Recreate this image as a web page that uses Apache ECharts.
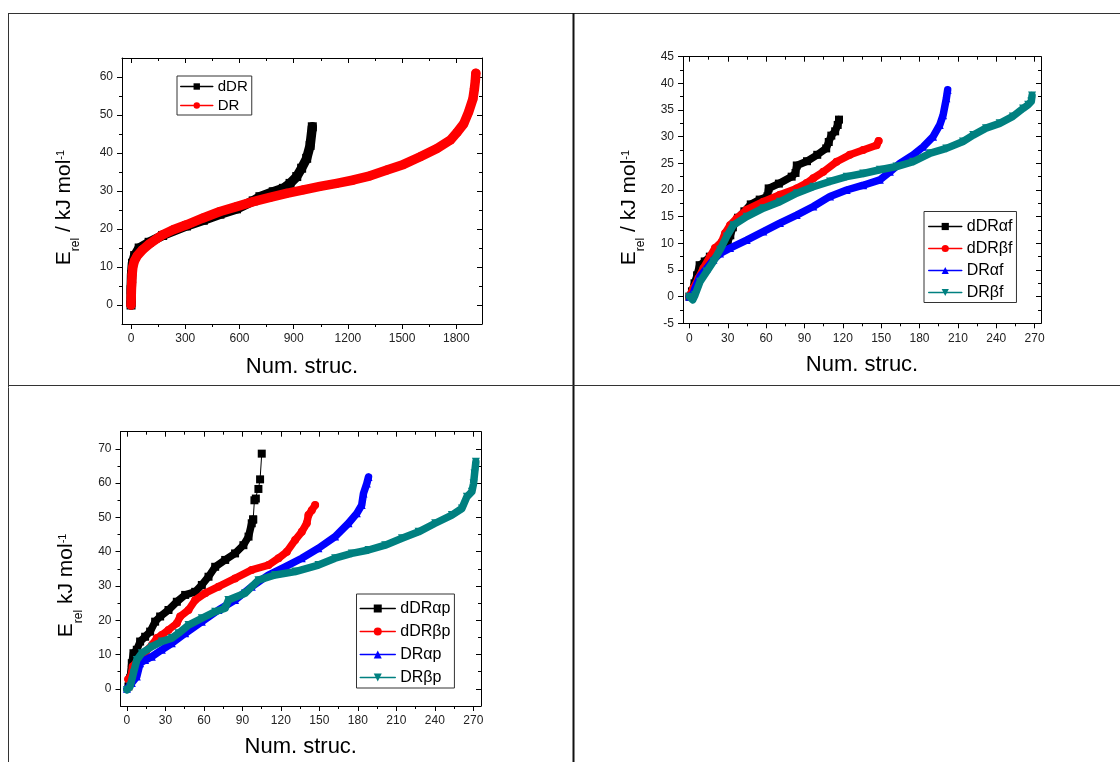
<!DOCTYPE html>
<html>
<head>
<meta charset="utf-8">
<script src="https://cdn.jsdelivr.net/npm/echarts@6/dist/echarts.min.js"></script>
<style>
  html, body { margin: 0; padding: 0; background: #fff; }
  #chart { width: 1120px; height: 762px; }
</style>
</head>
<body>
<div id="chart"></div>
<script>
// ---- Panel 1: all structures (relative energy vs. structure index) ----
const dDR = [[0,0],[1,4],[3,8],[8,11],[20,13],[45,15],[100,16.5],[175,18.3],[307,20.8],[400,22.3],[492,23.9],[584,25.3],[676,27.4],[713,28.5],[787,29.8],[843,30.7],[880,32],[917,33.8],[944,36],[972,38.6],[991,42],[1003,46.9]];
const DR = [[0,0],[1,2],[2,4],[4,6],[6,8],[10,10],[18,11.5],[35,13],[65,14.6],[100,16],[175,18.5],[233,19.8],[307,21.1],[399,22.9],[492,24.6],[584,25.9],[676,27.2],[769,28.3],[861,29.4],[954,30.3],[1046,31.2],[1138,32.0],[1231,32.9],[1323,34.0],[1416,35.5],[1508,37.0],[1600,39.0],[1693,41.2],[1767,43.4],[1804,45.4],[1841,47.7],[1868,50.8],[1892,54.3],[1900,56.9],[1905,59],[1908,61]];

// ---- Panel 2: furanose forms ----
const dDRaf = [[0,0],[2,1],[4,2.5],[6,4],[8,5.9],[12,6.6],[16,7.5],[21,8.4],[27,9.5],[30,10.3],[32,11.5],[34,13],[38,14.8],[43,16],[48,17.3],[55,18.2],[61,18.8],[62,20.3],[70,21.2],[80,22.5],[83,23.2],[84,24.6],[92,25.4],[100,26.6],[107,27.8],[109,29],[111,30.2],[114,31],[116,32.2],[117,33.2]];
const dDRbf = [[0,0],[3.1,1.6],[7,3.4],[10.9,5.3],[16.1,7.5],[20,9.1],[25.3,10.3],[27.9,11.9],[31.8,13.4],[37,14.7],[44.8,16.3],[57.8,17.8],[70.8,19.1],[83.9,20.3],[91.7,21.3],[96.9,22.2],[104.7,23.4],[115.1,25.3],[125.5,26.6],[135.9,27.5],[146.4,28.4],[148,29.2]];
const DRaf = [[0,0],[3.1,0.6],[4.4,1.6],[8.3,3.8],[13.5,5.3],[18.8,6.9],[24,8.1],[31.8,9.1],[44.8,10.6],[57.8,12.2],[70.8,13.8],[83.9,15.3],[96.9,16.9],[110,18.8],[123,20],[136,20.9],[149,21.9],[156.8,23.4],[164.6,25],[175,26.6],[182.8,28.1],[190.6,30],[195.8,32.2],[198.4,34],[201,37.2],[202,38.8]];
const DRbf = [[0,0],[2.6,-0.6],[4.4,0.3],[8.3,2.8],[13.5,4.7],[18.8,6.6],[24,8.8],[29.2,11.3],[34.4,13.4],[44.8,15],[57.8,16.6],[70.8,17.8],[83.9,19.4],[96.9,20.6],[110,21.6],[123,22.5],[136,23.1],[149,23.8],[162,24.4],[175,25.3],[188.5,26.9],[201,27.8],[214,29.1],[222,30.3],[232,31.6],[242.7,32.5],[253,33.8],[261,35.3],[265,36],[267.4,36.6],[268,37.7]];

// ---- Panel 3: pyranose forms ----
const dDRapLow = [[1.2,0.7],[2.5,3.1],[3.8,7.5],[5.1,10.4],[7.7,11.4],[10.3,13.8],[14.2,15.2],[18.1,16.7],[22,19.6],[25.9,21.1],[32.4,23],[38.9,25.4],[45.4,27.4],[53.2,28.3],[58.4,30.3],[63.6,32.7],[68.8,35.6],[76.6,37.6],[84.3,39.5],[90.8,41.9],[94.8,44.4],[97.3,48.3],[98.4,49.4]];
const dDRapHigh = [[98.4,49.4],[99.4,55],[100.5,55.5],[102.5,58.3],[103.8,61.1],[105.1,68.6]];
const dDRbp = [[1,2.8],[3,3.5],[4.5,6.5],[10,9],[15,11],[20,13],[23.3,14.8],[27.2,15.7],[32.4,17.2],[38.9,19.1],[41.5,21.1],[48,23],[53.2,25.9],[61,27.9],[71.4,29.8],[84.3,32.2],[97.3,34.7],[110.3,36.1],[118.2,38.1],[124.7,40],[131.1,43.4],[136.3,45.8],[140.2,48.3],[141.5,50.7],[144.1,52.1],[146.7,53.6]];
const DRap = [[0,0],[3.8,1.7],[7.7,3.6],[10.3,7.5],[14.2,8.4],[19.4,9.4],[27.2,11.4],[35,13.3],[45.4,16.2],[58.4,19.6],[71.4,23],[84.3,25.9],[97.3,29.8],[110.3,33.2],[123.3,35.6],[136.3,38.1],[149.3,41],[162.3,44.4],[172.7,48.3],[179.2,51.2],[183,53.6],[184.4,57],[187,59.9],[188.3,61.8]];
const DRbp = [[0,-0.3],[2.5,0.7],[5.1,4.6],[7.7,8.4],[11.6,10.4],[19.4,12.3],[27.2,13.8],[35,14.8],[40.2,16.2],[48,18.6],[58.4,20.6],[68.8,22.5],[76.6,23.5],[79.1,25.9],[92.1,27.9],[102.5,31.7],[115.5,33.2],[131.3,34.2],[149.3,36.1],[162.3,38.1],[175.3,39.5],[188.3,40.5],[201.3,41.9],[214.4,43.9],[227.4,45.8],[240.3,48.3],[253.3,50.7],[261.1,52.6],[265,56],[268.9,57.5],[270.2,59.9],[271,62.8],[272,66.2]];

// ---- Tick values ----
const x1Major = [0, 300, 600, 900, 1200, 1500, 1800];
const x1Minor = [150, 450, 750, 1050, 1350, 1650];
const y1Major = [0, 10, 20, 30, 40, 50, 60];
const y1Minor = [5, 15, 25, 35, 45, 55];
const x2Major = [0, 30, 60, 90, 120, 150, 180, 210, 240, 270];
const x2Minor = [15, 45, 75, 105, 135, 165, 195, 225, 255];
const y2Major = [-5, 0, 5, 10, 15, 20, 25, 30, 35, 40, 45];
const y2Minor = [-2.5, 2.5, 7.5, 12.5, 17.5, 22.5, 27.5, 32.5, 37.5, 42.5];
const x3Major = [0, 30, 60, 90, 120, 150, 180, 210, 240, 270];
const x3Minor = [15, 45, 75, 105, 135, 165, 195, 225, 255];
const y3Major = [0, 10, 20, 30, 40, 50, 60, 70];
const y3Minor = [5, 15, 25, 35, 45, 55, 65];

const FONT = '"Liberation Sans", Arial, sans-serif';
const BLACK = '#000000', RED = '#ff0000', BLUE = '#0000ff', TEAL = '#008080';

const panels = [
  {
    grid: { left: 122, top: 58, width: 360, height: 266 },
    x: { min: -50, max: 1942, major: x1Major, minor: x1Minor, nameGap: 32 },
    y: { min: -5, max: 65, major: y1Major, minor: y1Minor, nameGap: 40, shift: 33,
         name: '{m|E}{s|rel}{m| / kJ mol}{p|-1}' },
    legend: { left: 177, top: 76, font: 15, lh: 19, gap: 0, ih: 8, iw: 32, pad: [1, 4, 0, 3] },
    band: 9.5, sym: 9,
    series: [
      { name: 'dDR', data: dDR, color: BLACK, symbol: 'rect' },
      { name: 'DR', data: DR, color: RED, symbol: 'circle' }
    ]
  },
  {
    grid: { left: 683, top: 56.7, width: 358, height: 266.6 },
    x: { min: -5, max: 275, major: x2Major, minor: x2Minor, nameGap: 31 },
    y: { min: -5, max: 45, major: y2Major, minor: y2Minor, nameGap: 36, shift: 35,
         name: '{m|E}{s|rel}{m| / kJ mol}{p|-1}' },
    legend: { left: 924, top: 211.5, font: 16, lh: 20, gap: 2, ih: 9, iw: 33, pad: [5, 4, 0, 4] },
    band: 7.5, sym: 8,
    series: [
      { name: 'dDRαf', data: dDRaf, color: BLACK, symbol: 'rect' },
      { name: 'dDRβf', data: dDRbf, color: RED, symbol: 'circle' },
      { name: 'DRαf', data: DRaf, color: BLUE, symbol: 'triangle' },
      { name: 'DRβf', data: DRbf, color: TEAL, symbol: 'triangle', rotate: 180 }
    ]
  },
  {
    grid: { left: 120.5, top: 431.7, width: 360.5, height: 274.3 },
    x: { min: -5, max: 276, major: x3Major, minor: x3Minor, nameGap: 30 },
    y: { min: -5, max: 75, major: y3Major, minor: y3Minor, nameGap: 36, shift: 33,
         name: '{m|E}{s|rel}{m| kJ mol}{p|-1}' },
    legend: { left: 356.5, top: 594, font: 16, lh: 21, gap: 2, ih: 10, iw: 35, pad: [4, 4, 0, 3] },
    band: 7.5, sym: 8,
    series: [
      { name: 'dDRαp', data: dDRapHigh, color: BLACK, symbol: 'rect', thin: true },
      { name: 'dDRαp', data: dDRapLow, color: BLACK, symbol: 'rect' },
      { name: 'dDRβp', data: dDRbp, color: RED, symbol: 'circle' },
      { name: 'DRαp', data: DRap, color: BLUE, symbol: 'triangle' },
      { name: 'DRβp', data: DRbp, color: TEAL, symbol: 'triangle', rotate: 180 }
    ]
  }
];

const xAxis = [], yAxis = [], grid = [], legend = [], series = [];

function makeAxis(g, pos, ax, ticks, len, inside, main, withLabels, extra) {
  return Object.assign({
    type: 'value', gridIndex: g, position: pos,
    min: ax.min, max: ax.max,
    axisLine: { show: main, onZero: false, lineStyle: { color: '#000', width: 1 } },
    axisTick: { show: true, customValues: ticks, length: len, inside: inside,
                lineStyle: { color: '#000', width: 1 } },
    axisLabel: { show: withLabels, customValues: ticks, showMinLabel: true, showMaxLabel: true,
                 formatter: v => String(v),
                 fontFamily: FONT, fontSize: 12, color: '#222', margin: 9 },
    splitLine: { show: false },
    minorTick: { show: false }
  }, extra || {});
}

panels.forEach((p, g) => {
  grid.push(Object.assign({ containLabel: false }, p.grid));
  const xi = xAxis.length, yi = yAxis.length;

  // bottom / top frame axes with major and minor ticks
  xAxis.push(makeAxis(g, 'bottom', p.x, p.x.major, 5, false, true, true, {
    name: 'Num. struc.', nameLocation: 'middle', nameGap: p.x.nameGap,
    nameTextStyle: { fontFamily: FONT, fontSize: 22, color: '#000' }
  }));
  xAxis.push(makeAxis(g, 'bottom', p.x, p.x.minor, 3, false, false, false));
  xAxis.push(makeAxis(g, 'top', p.x, p.x.major, 5, true, true, false));
  xAxis.push(makeAxis(g, 'top', p.x, p.x.minor, 3, true, false, false));

  // left / right frame axes
  yAxis.push(makeAxis(g, 'left', p.y, p.y.major, 5, false, true, true, {
    name: p.y.name, nameLocation: 'middle', nameGap: p.y.nameGap,
    nameTextStyle: {
      fontFamily: FONT, color: '#000', padding: [0, p.y.shift, 0, 0],
      rich: {
        m: { fontFamily: FONT, fontSize: 21, color: '#000', lineHeight: 36 },
        s: { fontFamily: FONT, fontSize: 12, color: '#000', verticalAlign: 'bottom' },
        p: { fontFamily: FONT, fontSize: 11, color: '#000', verticalAlign: 'top', padding: [9, 0, 0, 0] }
      }
    }
  }));
  yAxis.push(makeAxis(g, 'left', p.y, p.y.minor, 3, false, false, false));
  yAxis.push(makeAxis(g, 'right', p.y, p.y.major, 5, true, true, false));
  yAxis.push(makeAxis(g, 'right', p.y, p.y.minor, 3, true, false, false));

  const names = [];
  p.series.forEach((s, k) => {
    if (names.indexOf(s.name) < 0) names.push(s.name);
    series.push({
      type: 'line', name: s.name, data: s.data,
      xAxisIndex: xi, yAxisIndex: yi,
      z: 2 + k,   // later curves sit fully on top of earlier ones (line and markers)
      symbol: s.symbol, symbolSize: p.sym, symbolRotate: s.rotate || 0,
      showSymbol: true, showAllSymbol: true, silent: true,
      itemStyle: { color: s.color, borderWidth: 0 },
      lineStyle: { color: s.color, width: s.thin ? 1 : p.band, cap: 'round', join: 'round' },
      emphasis: { disabled: true }
    });
  });

  const L = p.legend;
  legend.push({
    show: true, orient: 'vertical', left: L.left, top: L.top, z: 20,
    data: names, selectedMode: false,
    itemWidth: L.iw, itemHeight: L.ih, itemGap: L.gap, padding: L.pad,
    backgroundColor: '#fff', borderColor: '#333', borderWidth: 1, borderRadius: 0,
    textStyle: { fontFamily: FONT, fontSize: L.font, color: '#000', lineHeight: L.lh },
    lineStyle: { width: 1.5 },
    itemStyle: { borderWidth: 0 }
  });
});

// table rules around the panels
const graphic = [
  { type: 'line', shape: { x1: 8, y1: 13.5, x2: 1120, y2: 13.5 }, style: { stroke: '#333', lineWidth: 1 } },
  { type: 'line', shape: { x1: 8.5, y1: 13, x2: 8.5, y2: 762 }, style: { stroke: '#333', lineWidth: 1 } },
  { type: 'line', shape: { x1: 573.5, y1: 13, x2: 573.5, y2: 762 }, style: { stroke: '#111', lineWidth: 2 } },
  { type: 'line', shape: { x1: 8, y1: 385.5, x2: 1120, y2: 385.5 }, style: { stroke: '#333', lineWidth: 1 } }
];

const chart = echarts.init(document.getElementById('chart'), null, { renderer: 'canvas' });
chart.setOption({
  animation: false,
  backgroundColor: '#fff',
  grid, xAxis, yAxis, legend, series, graphic
});
</script>
</body>
</html>
